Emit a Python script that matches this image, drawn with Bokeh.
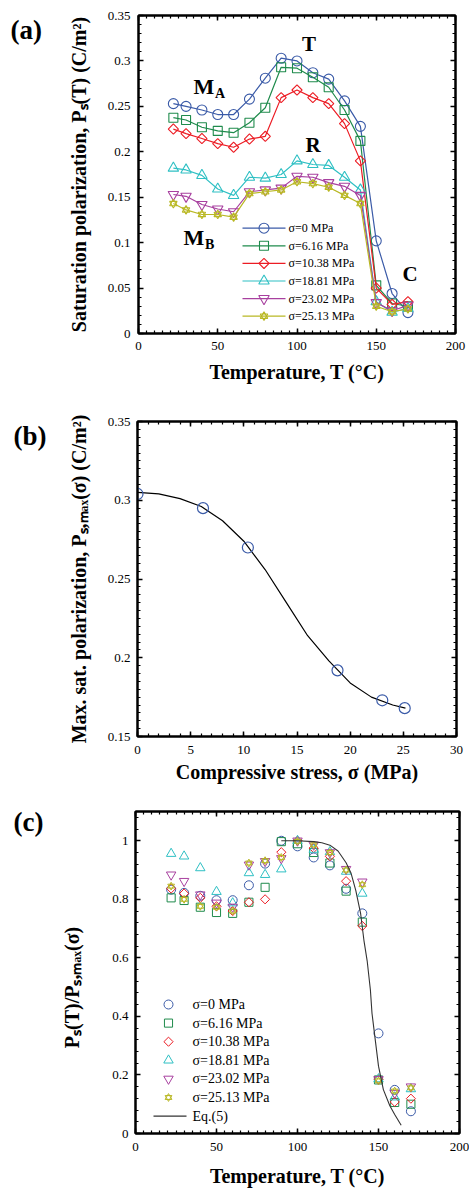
import numpy as np
from bokeh.plotting import figure
from bokeh.layouts import column, row
from bokeh.models import LinearAxis, FixedTicker, Label, Range1d
from bokeh.core.properties import value
from bokeh.embed import file_html
from bokeh.resources import INLINE

# ---------------- data ----------------
temps = [22, 30, 40, 50, 60, 70, 80, 90, 100, 110, 120, 130, 140, 150, 160, 170]
stress_labels = ["σ=0 MPa", "σ=6.16 MPa", "σ=10.38 MPa", "σ=18.81 MPa", "σ=23.02 MPa", "σ=25.13 MPa"]

ps_0 = [0.253, 0.250, 0.246, 0.241, 0.241, 0.258, 0.281, 0.303, 0.300, 0.287, 0.280, 0.256, 0.228, 0.102, 0.044, 0.023]
ps_616 = [0.2375, 0.235, 0.227, 0.223, 0.221, 0.232, 0.2485, 0.293, 0.292, 0.282, 0.271, 0.246, 0.212, 0.053, 0.033, 0.030]
ps_1038 = [0.225, 0.220, 0.2146, 0.209, 0.205, 0.214, 0.217, 0.2596, 0.268, 0.2596, 0.253, 0.231, 0.190, 0.050, 0.032, 0.035]
ps_1881 = [0.182, 0.180, 0.174, 0.159, 0.152, 0.172, 0.171, 0.175, 0.190, 0.186, 0.185, 0.172, 0.158, 0.035, 0.0235, 0.0275]
ps_2302 = [0.153, 0.151, 0.142, 0.137, 0.134, 0.156, 0.158, 0.160, 0.173, 0.172, 0.166, 0.162, 0.152, 0.034, 0.025, 0.031]
ps_2513 = [0.143, 0.136, 0.131, 0.131, 0.128, 0.154, 0.156, 0.158, 0.167, 0.165, 0.161, 0.152, 0.143, 0.030, 0.024, 0.027]

stress = [0, 6.16, 10.38, 18.81, 23.02, 25.13]
ps_max = [0.304, 0.295, 0.270, 0.192, 0.173, 0.168]
fit_stress = [0, 2, 4, 6, 8, 10, 12, 14, 16, 18, 20, 22, 24, 25.2]
fit_ps = [0.305, 0.304, 0.301, 0.296, 0.287, 0.274, 0.256, 0.235, 0.214, 0.198, 0.184, 0.175, 0.170, 0.168]

n_0 = [0.833, 0.822, 0.812, 0.797, 0.797, 0.848, 0.922, 1.0, 0.981, 0.943, 0.916, 0.836, 0.752, 0.342, 0.149, 0.076]
n_616 = [0.805, 0.796, 0.773, 0.755, 0.752, 0.790, 0.841, 0.997, 0.990, 0.960, 0.924, 0.828, 0.722, 0.183, 0.106, 0.100]
n_1038 = [0.837, 0.820, 0.805, 0.776, 0.760, 0.790, 0.800, 0.961, 1.0, 0.975, 0.947, 0.862, 0.709, 0.185, 0.108, 0.119]
n_1881 = [0.956, 0.947, 0.907, 0.826, 0.787, 0.890, 0.884, 0.903, 1.0, 0.970, 0.962, 0.895, 0.820, 0.186, 0.124, 0.152]
n_2302 = [0.884, 0.862, 0.816, 0.788, 0.774, 0.918, 0.930, 0.940, 1.0, 0.986, 0.960, 0.903, 0.860, 0.185, 0.138, 0.160]
n_2513 = [0.845, 0.800, 0.776, 0.773, 0.760, 0.924, 0.932, 0.943, 0.998, 0.986, 0.960, 0.900, 0.850, 0.180, 0.145, 0.156]

eq_T = [90, 100, 110, 115, 120, 125, 130, 133, 136, 139, 141, 143, 145, 146, 148, 150, 153, 157, 160, 164]
eq_y = [1.0, 1.0, 0.997, 0.993, 0.985, 0.965, 0.925, 0.89, 0.83, 0.75, 0.66, 0.59, 0.49, 0.41, 0.32, 0.23, 0.15, 0.095, 0.065, 0.028]
eq_label = "Eq.(5)"

a_x_ticks = [0, 50, 100, 150, 200]
a_x_labels = ["0", "50", "100", "150", "200"]
a_y_ticks = [0, 0.05, 0.1, 0.15, 0.2, 0.25, 0.3, 0.35]
a_y_labels = ["0", "0.05", "0.1", "0.15", "0.2", "0.25", "0.3", "0.35"]
b_x_ticks = [0, 5, 10, 15, 20, 25, 30]
b_x_labels = ["0", "5", "10", "15", "20", "25", "30"]
b_y_ticks = [0.15, 0.2, 0.25, 0.3, 0.35]
b_y_labels = ["0.15", "0.2", "0.25", "0.3", "0.35"]
c_x_ticks = [0, 50, 100, 150, 200]
c_x_labels = ["0", "50", "100", "150", "200"]
c_y_ticks = [0, 0.2, 0.4, 0.6, 0.8, 1]
c_y_labels = ["0", "0.2", "0.4", "0.6", "0.8", "1"]

colors = ["#3b5ba8", "#1f8b4c", "#ec1c24", "#2fc0c4", "#a8409f", "#b9b824"]
SERIF = "Liberation Serif"
W = 469
SIDE = 50  # width of the column holding the panel letters


def style_axis(ax, show_labels=True):
    ax.major_tick_in = 5
    ax.major_tick_out = 0
    ax.minor_tick_in = 3
    ax.minor_tick_out = 0
    ax.major_tick_line_width = 1.5
    ax.minor_tick_line_width = 1.2
    ax.major_tick_line_color = "black"
    ax.minor_tick_line_color = "black"
    ax.axis_line_width = 2
    ax.axis_line_color = "black"
    ax.major_label_text_font = SERIF
    ax.major_label_text_color = "black"
    ax.axis_label_text_font = SERIF
    ax.axis_label_text_font_style = "bold"
    ax.axis_label_text_font_size = "20px"
    ax.axis_label_text_color = "black"
    if show_labels:
        ax.major_label_text_font_size = "13px"
    else:
        ax.major_label_text_font_size = "1px"
        ax.major_label_text_color = None
        ax.major_label_standoff = 0
        ax.axis_label = None


def make_fig(h, top, bottom, left, right, xr, yr, xt, xl, xminor, yt, yl, yminor,
             xlabel, ylabel, xl_stand, yl_stand, xt_stand, yt_stand):
    p = figure(width=W - SIDE, height=h, x_range=Range1d(*xr), y_range=Range1d(*yr),
               output_backend="svg", toolbar_location=None, title=None,
               min_border_top=top, min_border_bottom=bottom,
               min_border_left=left - SIDE, min_border_right=right)
    p.grid.visible = False
    p.outline_line_color = "black"
    p.outline_line_width = 2
    xa = p.xaxis[0]
    ya = p.yaxis[0]
    xa.ticker = FixedTicker(ticks=xt, minor_ticks=xminor)
    ya.ticker = FixedTicker(ticks=yt, minor_ticks=yminor)
    xa.major_label_overrides = dict(zip(xt, xl))
    ya.major_label_overrides = dict(zip(yt, yl))
    style_axis(xa)
    style_axis(ya)
    xa.axis_label = xlabel
    ya.axis_label = ylabel
    xa.axis_label_standoff = xl_stand
    ya.axis_label_standoff = yl_stand
    xa.major_label_standoff = xt_stand
    ya.major_label_standoff = yt_stand
    top_ax = LinearAxis(ticker=FixedTicker(ticks=xt, minor_ticks=xminor))
    right_ax = LinearAxis(ticker=FixedTicker(ticks=yt, minor_ticks=yminor))
    style_axis(top_ax, show_labels=False)
    style_axis(right_ax, show_labels=False)
    p.add_layout(top_ax, "above")
    p.add_layout(right_ax, "right")
    return p


def letter_fig(h, text, x_px, y_center_px):
    f = figure(width=SIDE, height=h, x_range=Range1d(0, SIDE), y_range=Range1d(0, h),
               output_backend="svg", toolbar_location=None, title=None, min_border=0,
               x_axis_location=None, y_axis_location=None)
    f.grid.visible = False
    f.outline_line_color = None
    f.text(x=[x_px], y=[h - y_center_px], text=[text], text_font=value(SERIF), text_font_style="bold",
           text_font_size="27px", text_baseline="middle", text_align="left", text_color="black")
    return f


def add_marker(p, x, y, idx, size, lw=1.1):
    c = colors[idx]
    if idx == 0:
        return [p.scatter(x, y, marker="circle", size=size, fill_color=None, line_color=c, line_width=lw)]
    if idx == 1:
        return [p.scatter(x, y, marker="square", size=size * 0.9, fill_color=None, line_color=c, line_width=lw)]
    if idx == 2:
        return [p.scatter(x, y, marker="square", size=size * 0.72, angle=np.pi / 4, fill_color=None,
                          line_color=c, line_width=lw)]
    if idx == 3:
        return [p.scatter(x, y, marker="triangle", size=size * 1.05, fill_color=None, line_color=c, line_width=lw)]
    if idx == 4:
        return [p.scatter(x, y, marker="inverted_triangle", size=size * 1.05, fill_color=None, line_color=c,
                          line_width=lw)]
    r1 = p.scatter(x, y, marker="triangle", size=size * 0.75, fill_color=None, line_color=c, line_width=lw)
    r2 = p.scatter(x, y, marker="inverted_triangle", size=size * 0.75, fill_color=None, line_color=c, line_width=lw)
    return [r1, r2]


def px_to_data(frame, px, py):
    # frame = (left, right, top, bottom, xr, yr) in page pixels
    l, r, t, b, xr, yr = frame
    x = xr[0] + (px - l) / (r - l) * (xr[1] - xr[0])
    y = yr[0] + (b - py) / (b - t) * (yr[1] - yr[0])
    return x, y


a_minor_x = list(range(0, 201, 5))
a_minor_y = [round(v, 3) for v in np.arange(0, 0.3501, 0.01)]
b_minor_x = list(range(0, 31, 1))
b_minor_y = [round(v, 4) for v in np.arange(0.15, 0.35001, 0.005)]
c_minor_x = list(range(0, 201, 5))
c_minor_y = [round(v, 3) for v in np.arange(0, 1.1001, 0.04)]

# ---------------- panel (a) ----------------
HA = 388
pa = make_fig(HA, 15, 55, 138, 14, (0, 200), (0, 0.35), a_x_ticks, a_x_labels, a_minor_x,
              a_y_ticks, a_y_labels, a_minor_y,
              "Temperature, T (°C)", "Saturation polarization, Pₛ(T) (C/m²)", 8, 15, 8, 8)
frame_a = (138, 455, 15, 333, (0, 200), (0, 0.35))
series_a = [ps_0, ps_616, ps_1038, ps_1881, ps_2302, ps_2513]
for i, ys in enumerate(series_a):
    pa.line(temps, ys, line_color=colors[i], line_width=1.2)
    add_marker(pa, temps, ys, i, 10)

# legend of (a), drawn in the frame
for i, lab in enumerate(stress_labels):
    py = 227.7 + 17.6 * i
    x0, yy = px_to_data(frame_a, 242, py)
    x1, _ = px_to_data(frame_a, 285, py)
    xm, _ = px_to_data(frame_a, 263.5, py)
    xt_, _ = px_to_data(frame_a, 288, py)
    pa.line([x0, x1], [yy, yy], line_color=colors[i], line_width=1.2)
    add_marker(pa, [xm], [yy], i, 10)
    pa.text(x=[xt_], y=[yy], text=[lab], text_font=value(SERIF), text_font_size="12px",
            text_baseline="middle", text_align="left", text_color="black")


def txt(p, x, y, t, size="21px", align="left"):
    p.add_layout(Label(x=x, y=y, text=t, text_font=SERIF, text_font_style="bold", text_font_size=size,
                       text_baseline="middle", text_align=align, text_color="black"))


txt(pa, 34.7, 0.272, "M", size="22px")
txt(pa, 48.3, 0.264, "A", size="14px")
txt(pa, 107.6, 0.319, "T", align="center")
txt(pa, 110.1, 0.207, "R", align="center")
txt(pa, 28.4, 0.106, "M", size="22px")
txt(pa, 42.0, 0.098, "B", size="14px")
txt(pa, 171.3, 0.065, "C", align="center")
la = letter_fig(HA, "(a)", 10, 17.5)

# ---------------- panel (b) ----------------
HB = 397
pb = make_fig(HB, 33, 47, 137, 13, (0, 30), (0.15, 0.35), b_x_ticks, b_x_labels, b_minor_x,
              b_y_ticks, b_y_labels, b_minor_y,
              "Compressive stress, σ (MPa)", "Max. sat. polarization, Pₛ,ₘₐₓ(σ) (C/m²)", 4, 15, 9, 7)
pb.line(fit_stress, fit_ps, line_color="black", line_width=1.2)
pb.scatter(stress, ps_max, marker="circle", size=11, fill_color=None, line_color=colors[0], line_width=1.2)
lb = letter_fig(HB, "(b)", 13, 406 - HA)

# ---------------- panel (c) ----------------
HC = 404
pc = make_fig(HC, 26, 56, 135, 10, (0, 200), (0, 1.1), c_x_ticks, c_x_labels, c_minor_x,
              c_y_ticks, c_y_labels, c_minor_y,
              "Temperature, T (°C)", "Pₛ(T)/Pₛ,ₘₐₓ(σ)" + "\u00a0" * 6, 11, 26, 9, 7)
frame_c = (135, 459, 811, 1133, (0, 200), (0, 1.1))
series_c = [n_0, n_616, n_1038, n_1881, n_2302, n_2513]
for i, ys in enumerate(series_c):
    add_marker(pc, temps, ys, i, 9, lw=1.0)
pc.line(eq_T, eq_y, line_color="#333333", line_width=1.1)

# legend of (c), drawn in the frame
for i, lab in enumerate(stress_labels + [eq_label]):
    py = 1004 + 18.6 * i
    xm, yy = px_to_data(frame_c, 168, py)
    xt_, _ = px_to_data(frame_c, 192, py)
    if i < 6:
        add_marker(pc, [xm], [yy], i, 9, lw=1.0)
    else:
        x0, _ = px_to_data(frame_c, 153, py)
        x1, _ = px_to_data(frame_c, 186, py)
        pc.line([x0, x1], [yy, yy], line_color="#333333", line_width=1.1)
    pc.text(x=[xt_], y=[yy], text=[lab], text_font=value(SERIF), text_font_size="14px",
            text_baseline="middle", text_align="left", text_color="black")
lc = letter_fig(HC, "(c)", 13, 798.5 - HA - HB)

layout = column(row(la, pa, spacing=0), row(lb, pb, spacing=0), row(lc, pc, spacing=0), spacing=0)
open("out.html", "w").write(file_html(layout, INLINE))
